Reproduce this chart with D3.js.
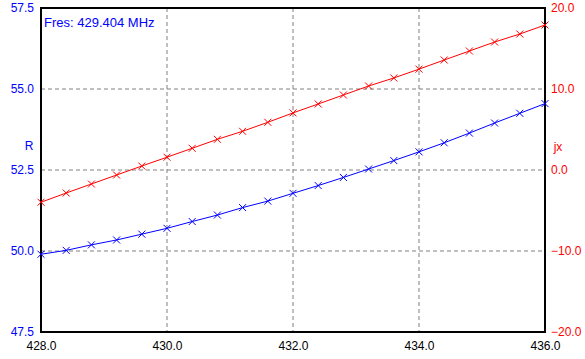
<!DOCTYPE html>
<html>
<head>
<meta charset="utf-8">
<script src="https://cdn.jsdelivr.net/npm/d3@7"></script>
<style>
  body { margin: 0; background: #fff; }
  svg text { font-family: "Liberation Sans", Arial, sans-serif; font-size: 12px; }
</style>
</head>
<body>
<svg id="chart" width="585" height="359"></svg>
<script>
const width = 585;
const height = 359;

// frequency points (MHz)
const freq = [428.0, 428.4, 428.8, 429.2, 429.6, 430.0, 430.4, 430.8, 431.2, 431.6,
              432.0, 432.4, 432.8, 433.2, 433.6, 434.0, 434.4, 434.8, 435.2, 435.6, 436.0];
// resistance R
const rVals = [49.90, 50.02, 50.19, 50.34, 50.52, 50.70, 50.91, 51.11, 51.34, 51.54,
               51.78, 52.02, 52.27, 52.53, 52.79, 53.06, 53.34, 53.64, 53.95, 54.25, 54.55];
// reactance jx
const jxVals = [-3.98, -2.84, -1.73, -0.62, 0.49, 1.58, 2.68, 3.79, 4.78, 5.89,
                7.05, 8.15, 9.26, 10.37, 11.36, 12.45, 13.58, 14.69, 15.80, 16.79, 17.90];

const xTicks = [428, 430, 432, 434, 436];
const rTicks = [47.5, 50.0, 52.5, 55.0, 57.5];
const jxTicks = [-20, -10, 0, 10, 20];
const fresLabel = "Fres: 429.404 MHz";

const plot = { left: 41, right: 545, top: 8, bottom: 332 };

const svg = d3.select("#chart");

const x = d3.scaleLinear().domain([428, 436]).range([plot.left, plot.right]);
const yR = d3.scaleLinear().domain([47.5, 57.5]).range([plot.bottom, plot.top]);
const yJ = d3.scaleLinear().domain([-20, 20]).range([plot.bottom, plot.top]);

// grid
svg.append("g")
    .selectAll("line")
    .data(xTicks.slice(1, -1))
    .enter()
    .append("line")
    .attr("x1", d => x(d)).attr("x2", d => x(d))
    .attr("y1", plot.top).attr("y2", plot.bottom)
    .attr("stroke", "#808080")
    .attr("stroke-dasharray", "4,3");

svg.append("g")
    .selectAll("line")
    .data(rTicks.slice(1, -1))
    .enter()
    .append("line")
    .attr("x1", plot.left).attr("x2", plot.right)
    .attr("y1", d => yR(d)).attr("y2", d => yR(d))
    .attr("stroke", "#808080")
    .attr("stroke-dasharray", "4,3");

// axes
const fmt = d3.format(".1f");

const xAxis = svg.append("g")
    .attr("transform", `translate(0,${plot.bottom})`)
    .call(d3.axisBottom(x).tickValues(xTicks).tickFormat(fmt).tickSize(0).tickPadding(9));
xAxis.select(".domain").remove();
xAxis.selectAll("text").attr("fill", "#000").style("font-size", "12px");

const lAxis = svg.append("g")
    .attr("transform", `translate(${plot.left},0)`)
    .call(d3.axisLeft(yR).tickValues(rTicks).tickFormat(fmt).tickSize(0).tickPadding(7));
lAxis.select(".domain").remove();
lAxis.selectAll("text").attr("fill", "#0000ff").style("font-size", "12px");

const rAxis = svg.append("g")
    .attr("transform", `translate(${plot.right},0)`)
    .call(d3.axisRight(yJ).tickValues(jxTicks).tickFormat(fmt).tickSize(0).tickPadding(6));
rAxis.select(".domain").remove();
rAxis.selectAll("text").attr("fill", "#ff0000").style("font-size", "12px");

// frame
svg.append("rect")
    .attr("x", plot.left).attr("y", plot.top)
    .attr("width", plot.right - plot.left).attr("height", plot.bottom - plot.top)
    .attr("fill", "none")
    .attr("stroke", "#000")
    .attr("stroke-width", 2);

// axis titles
svg.append("text")
    .attr("x", 29).attr("y", 150)
    .attr("text-anchor", "middle")
    .attr("fill", "#0000ff")
    .text("R");

svg.append("text")
    .attr("x", 558).attr("y", 151)
    .attr("text-anchor", "middle")
    .attr("fill", "#ff0000")
    .text("jx");

svg.append("text")
    .attr("x", 44).attr("y", 27)
    .attr("fill", "#0000ff")
    .style("font-size", "13px")
    .text(fresLabel);

// series
function drawSeries(vals, yScale, color) {
    const pts = freq.map((f, i) => [x(f), yScale(vals[i])]);
    svg.append("path")
        .attr("d", d3.line()(pts))
        .attr("fill", "none")
        .attr("stroke", color)
        .attr("stroke-width", 1);
    const s = 3.5;
    svg.append("g")
        .selectAll("path")
        .data(pts)
        .enter()
        .append("path")
        .attr("d", d => `M${d[0]-s},${d[1]-s}L${d[0]+s},${d[1]+s}M${d[0]-s},${d[1]+s}L${d[0]+s},${d[1]-s}`)
        .attr("stroke", color)
        .attr("stroke-width", 1)
        .attr("fill", "none");
}

drawSeries(jxVals, yJ, "#ff0000");
drawSeries(rVals, yR, "#0000ff");
</script>
</body>
</html>
